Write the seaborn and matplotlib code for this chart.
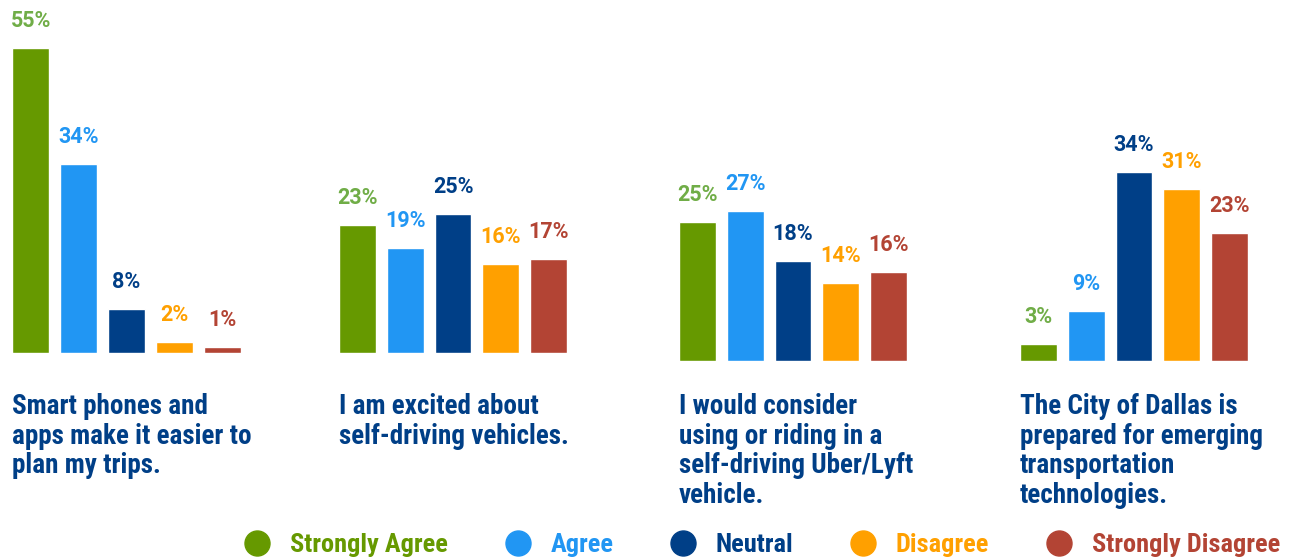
import matplotlib
matplotlib.use("Agg")
import matplotlib.pyplot as plt
import matplotlib.transforms as mtransforms
from matplotlib.lines import Line2D
import seaborn as sns

# Survey data (percent of respondents)
levels = ["Strongly Agree", "Agree", "Neutral", "Disagree", "Strongly Disagree"]
statements = [
    "Smart phones and\napps make it easier to\nplan my trips.",
    "I am excited about\nself-driving vehicles.",
    "I would consider\nusing or riding in a\nself-driving Uber/Lyft\nvehicle.",
    "The City of Dallas is\nprepared for emerging\ntransportation\ntechnologies.",
]
smart_phones = [55, 34, 8, 2, 1]
excited_av = [23, 19, 25, 16, 17]
consider_av = [25, 27, 18, 14, 16]
dallas_prepared = [3, 9, 34, 31, 23]

bar_colors = ["#669900", "#2196F3", "#003F87", "#FFA000", "#B34434"]
label_colors = ["#70AD47", "#2196F3", "#003F87", "#FFA000", "#B34434"]
navy = "#003F87"

sns.set_theme(style="white")
plt.rcParams["font.family"] = ["Roboto", "DejaVu Sans"]
narrow = ["Roboto Condensed", "Liberation Sans Narrow", "Roboto", "DejaVu Sans"]

W, H = 1291, 559
fig = plt.figure(figsize=(W / 100, H / 100), dpi=100)

# axes placement in pixels: (left, baseline from top)
panels = [(7.0, 353), (333.5, 353), (673.5, 361), (1014.5, 361)]
series = [smart_phones, excited_av, consider_av, dallas_prepared]
px_per_pct = 5.55
ymax = 60
bw = 0.77

for (left, base), vals, text in zip(panels, series, statements):
    ax = fig.add_axes([left / W, (H - base) / H, 239 / W, ymax * px_per_pct / H])
    sns.barplot(x=levels, y=vals, hue=levels, palette=bar_colors, ax=ax,
                legend=False, width=bw, saturation=1, order=levels, hue_order=levels)
    ax.set_xlim(-0.5, 4.5)
    ax.set_ylim(0, ymax)
    ax.axis("off")
    for i, v in enumerate(vals):
        ax.annotate(f"{v}%", xy=(i, v), xytext=(0, 21), textcoords="offset pixels",
                    ha="center", va="baseline", fontsize=15.5, fontweight="bold",
                    color=label_colors[i])
    trans = mtransforms.blended_transform_factory(ax.transData, fig.transFigure)
    ax.text(-bw / 2, 1 - 393 / H, text, transform=trans, ha="left", va="top",
            fontsize=19.5, fontweight="bold", color=navy, family=narrow,
            linespacing=1.12, clip_on=False)

handles = [Line2D([], [], marker="o", linestyle="", markersize=18,
                  markerfacecolor=c, markeredgecolor=c) for c in bar_colors]
leg = fig.legend(handles, levels, loc="center", bbox_to_anchor=(762 / W, 1 - 545 / H),
                 ncol=5, frameon=False, handlelength=1.0, handletextpad=0.75,
                 columnspacing=2.13, borderpad=0, borderaxespad=0,
                 prop={"family": narrow, "weight": "bold", "size": 19})
for t, c in zip(leg.get_texts(), bar_colors):
    t.set_color(c)

fig.savefig("out.png", dpi=100)
